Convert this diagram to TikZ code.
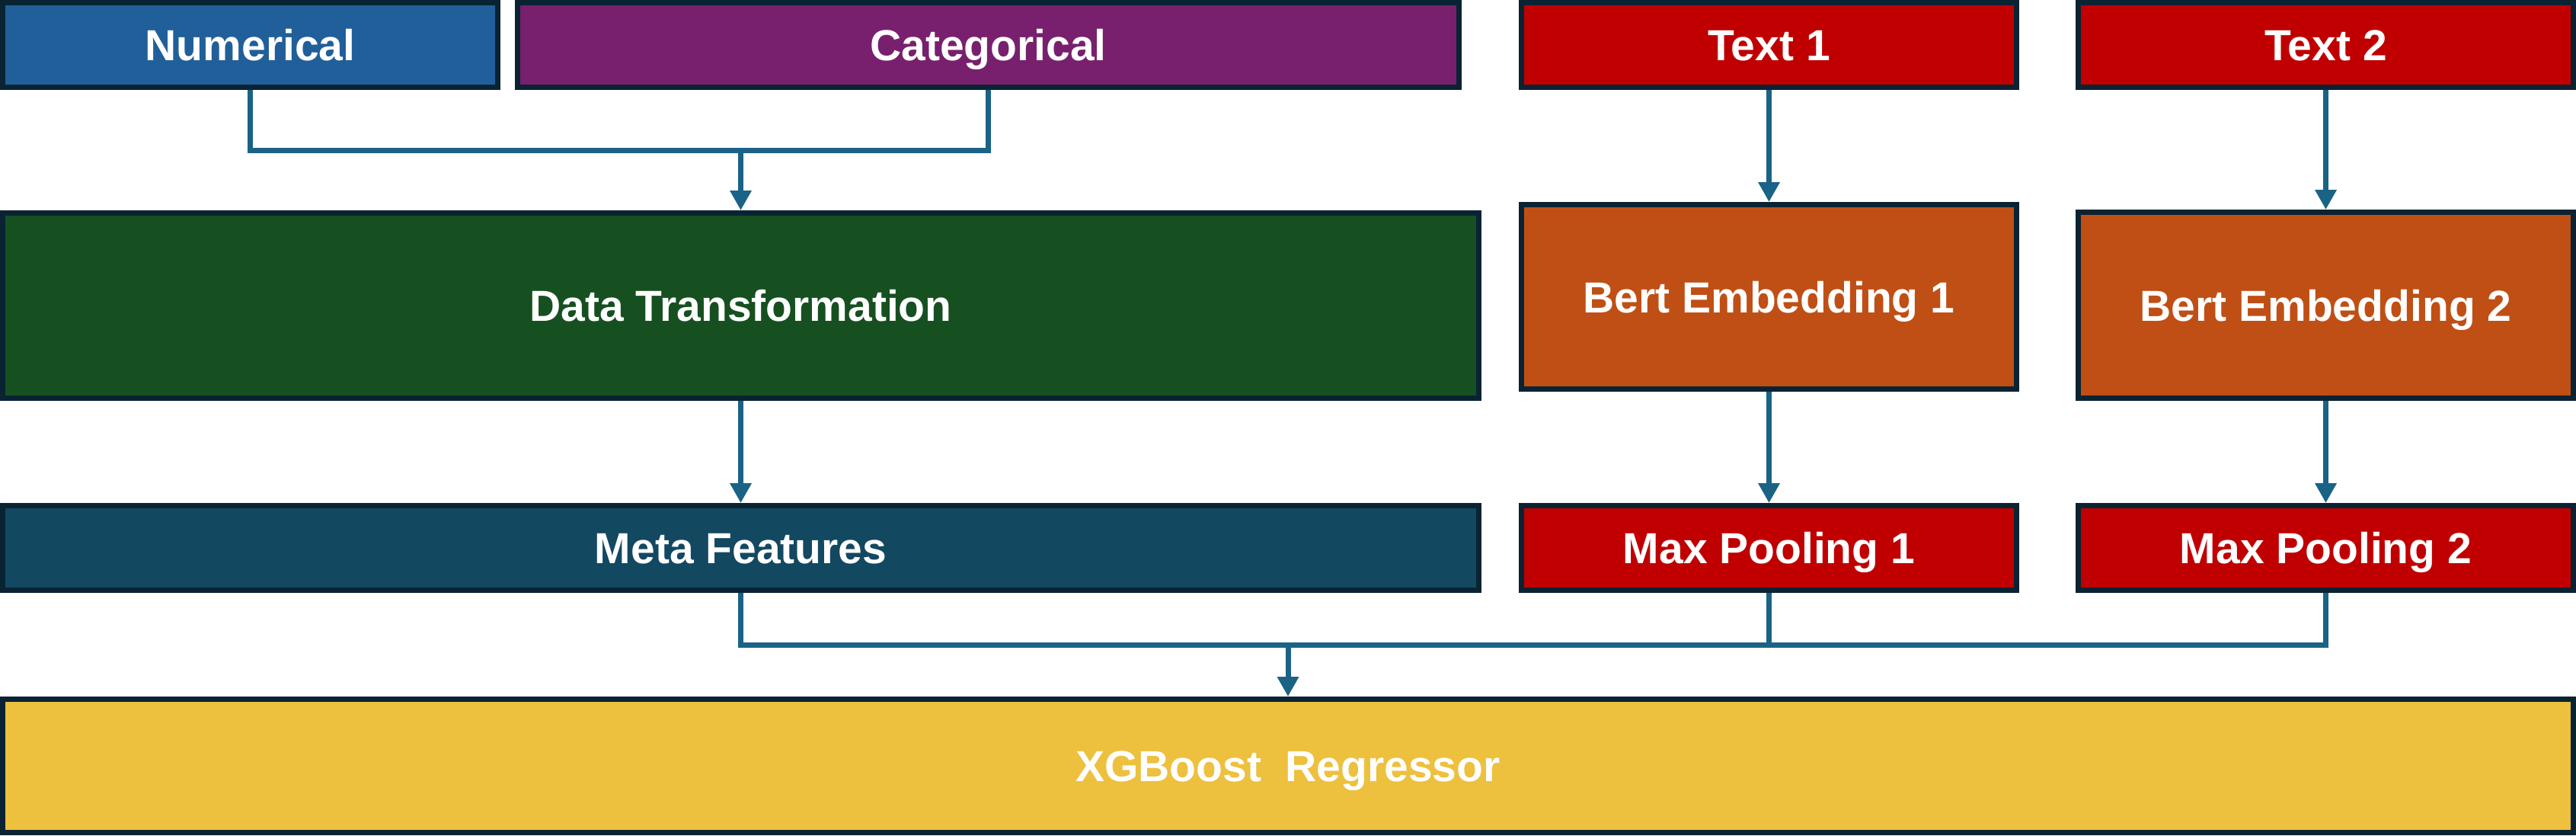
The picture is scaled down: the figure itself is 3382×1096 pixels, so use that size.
\documentclass[tikz,border=0pt]{standalone}
\usepackage{fontspec}
\setmainfont{Liberation Sans}
\usetikzlibrary{arrows.meta}
\definecolor{bordc}{HTML}{0A2333}
\definecolor{arrc}{HTML}{1A6386}
\definecolor{numc}{HTML}{215F9A}
\definecolor{catc}{HTML}{78206E}
\definecolor{redc}{HTML}{C00000}
\definecolor{greenc}{HTML}{165020}
\definecolor{orangec}{HTML}{C04F15}
\definecolor{metac}{HTML}{134861}
\definecolor{yelc}{HTML}{EDC03E}
\tikzset{
  box/.style={draw=bordc, line width=7pt, rectangle, inner sep=0pt,
    text height=41pt, text depth=0pt,
    text=white, font=\fontsize{57}{68}\selectfont\bfseries},
  conn/.style={draw=arrc, line width=7pt},
  arr/.style={conn, -{Triangle[width=27pt,length=26pt]}}
}
\begin{document}
\begin{tikzpicture}[x=1pt,y=-1pt]
\useasboundingbox (0,0) rectangle (3382,1096);
% row 1
\node[box, fill=numc, minimum width=650pt, minimum height=111pt] (num) at (328.5,59) {Numerical};
\node[box, fill=catc, minimum width=1236pt, minimum height=111pt] (cat) at (1297.5,59) {Categorical};
\node[box, fill=redc, minimum width=650pt, minimum height=111pt] (t1) at (2322.5,59) {Text 1};
\node[box, fill=redc, minimum width=650pt, minimum height=111pt] (t2) at (3053.5,59) {Text 2};
% row 2
\node[box, fill=greenc, minimum width=1938pt, minimum height=243pt] (dt) at (972.5,401) {Data Transformation};
\node[box, fill=orangec, minimum width=650pt, minimum height=242pt] (b1) at (2322.5,389.5) {Bert Embedding 1};
\node[box, fill=orangec, minimum width=650pt, minimum height=244pt] (b2) at (3053.5,400.5) {Bert Embedding 2};
% row 3
\node[box, fill=metac, minimum width=1938pt, minimum height=111pt] (meta) at (972.5,719) {Meta Features};
\node[box, fill=redc, minimum width=650pt, minimum height=111pt] (mp1) at (2322.5,719) {Max Pooling 1};
\node[box, fill=redc, minimum width=650pt, minimum height=111pt] (mp2) at (3053.5,719) {Max Pooling 2};
% row 4
\node[box, fill=yelc, minimum width=3375pt, minimum height=175pt] (xgb) at (1691,1005) {XGBoost~~Regressor};
% merge points
\coordinate (m1) at (972.5,197.5);
\coordinate (m2) at (1691,846);
% connectors
\draw[conn] (num.south) |- (m1);
\draw[conn] (cat.south) |- (m1);
\draw[arr] (m1) -- (dt.north);
\draw[arr] (t1.south) -- (b1.north);
\draw[arr] (t2.south) -- (b2.north);
\draw[arr] (dt.south) -- (meta.north);
\draw[arr] (b1.south) -- (mp1.north);
\draw[arr] (b2.south) -- (mp2.north);
\draw[conn] (meta.south) |- (m2);
\draw[conn] (mp1.south) |- (m2);
\draw[conn] (mp2.south) |- (m2);
\draw[arr] (m2) -- (xgb.north);
\end{tikzpicture}
\end{document}
